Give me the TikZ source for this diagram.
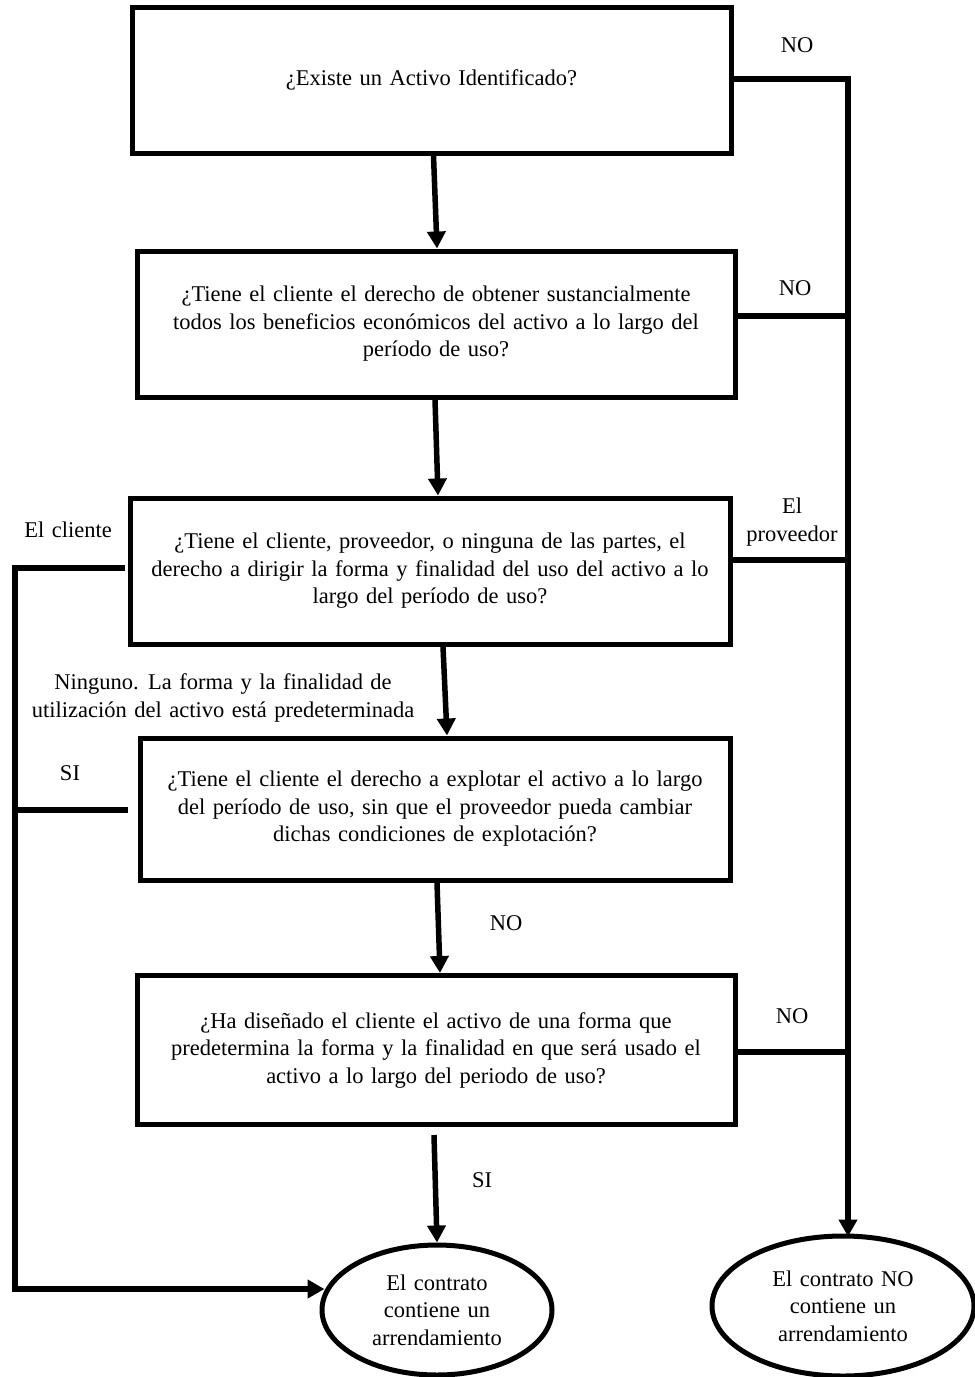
\documentclass[tikz,border=0pt]{standalone}
\usepackage{fontspec}
\setmainfont{Liberation Serif}
\usetikzlibrary{arrows.meta,shapes.geometric}
\newcommand\diagfont{\fontsize{22.5}{27.5}\selectfont\spaceskip=7.5pt plus 2pt minus 1pt\relax}
\begin{document}
\begin{tikzpicture}[x=1pt,y=-1pt,
  every node/.style={font=\diagfont},
  qbox/.style={draw,line width=5pt,rectangle,align=center,inner sep=0pt},
  endell/.style={draw,line width=5pt,ellipse,align=center,inner sep=0pt},
  conn/.style={line width=5.5pt},
  arr/.style={line width=5.5pt,-{Triangle[length=17pt,width=18pt]}},
  lbl/.style={align=center,inner sep=0pt}]
\useasboundingbox (0,0) rectangle (975,1377);
\node[qbox,minimum width=599pt,minimum height=146pt] (b1) at (431.5,80) {¿Existe un Activo Identificado?};
\node[qbox,minimum width=598pt,minimum height=146pt] (b2) at (436,324) {¿Tiene el cliente el derecho de obtener sustancialmente\\todos los beneficios económicos del activo a lo largo del\\período de uso?};
\node[qbox,minimum width=600pt,minimum height=146pt] (b3) at (430,571) {¿Tiene el cliente, proveedor, o ninguna de las partes, el\\derecho a dirigir la forma y finalidad del uso del activo a lo\\largo del período de uso?};
\node[qbox,minimum width=590pt,minimum height=142pt] (b4) at (435,809) {¿Tiene el cliente el derecho a explotar el activo a lo largo\\del período de uso, sin que el proveedor pueda cambiar\\dichas condiciones de explotación?};
\node[qbox,minimum width=598pt,minimum height=149pt] (b5) at (436,1050) {¿Ha diseñado el cliente el activo de una forma que\\predetermina la forma y la finalidad en que será usado el\\activo a lo largo del periodo de uso?};
\node[endell,minimum width=230pt,minimum height=130pt] (e1) at (437,1310) {El contrato\\contiene un\\arrendamiento};
\node[endell,minimum width=262pt,minimum height=140pt] (e2) at (843,1306) {El contrato NO\\contiene un\\arrendamiento};
% labels
\node[lbl] (n1) at (797,45) {NO};
\node[lbl] (n2) at (795,288) {NO};
\node[lbl] (c1) at (68,530) {El cliente};
\node[lbl] (p1) at (792,522) {El\\proveedor};
\node[lbl] (ng) at (223,698) {Ninguno. La forma y la finalidad de\\utilización del activo está predeterminada};
\node[lbl] (s1) at (70,773) {SI};
\node[lbl] (n3) at (506,923) {NO};
\node[lbl] (n4) at (792,1016) {NO};
\node[lbl] (s2) at (482,1180) {SI};
% coordinates
\coordinate (r1) at (848,79);
\coordinate (r2) at (848,316);
\coordinate (r3) at (848,560);
\coordinate (r5) at (848,1052);
\coordinate (l1) at (15,568);
\coordinate (l2) at (15,810);
\coordinate (l3) at (15,1289);
% right side
\draw[conn] (b1.east |- r1) -- (r1);
\draw[arr] ([yshift=2.75pt]r1) -- ([yshift=-3pt]r1 |- e2.north);
\draw[conn] (b2.east |- r2) -- (r2);
\draw[conn] (b3.east |- r3) -- (r3);
\draw[conn] (b5.east |- r5) -- (r5);
% left side
\draw[conn] ([xshift=-3pt]b3.west |- l1) -- (l1) -- (l3);
\draw[conn] ([xshift=-10pt]b4.west |- l2) -- (l2);
\draw[arr] ([xshift=-2.75pt]l3) -- ([xshift=5pt]l3 -| e1.west);
% vertical arrows
\draw[arr] ([xshift=2pt]b1.south) -- ([xshift=1pt]b2.north);
\draw[arr] ([xshift=-1pt]b2.south) -- ([xshift=2pt]b2.south |- b3.north);
\draw[arr] ([xshift=13pt]b3.south) -- ([xshift=17pt]b3.south |- b4.north);
\draw[arr] ([xshift=2pt]b4.south) -- ([xshift=5pt]b4.south |- b5.north);
\draw[arr] ([xshift=-2pt,yshift=-8pt]b5.south) -- ([xshift=1pt]b5.south |- e1.north);
\end{tikzpicture}
\end{document}
